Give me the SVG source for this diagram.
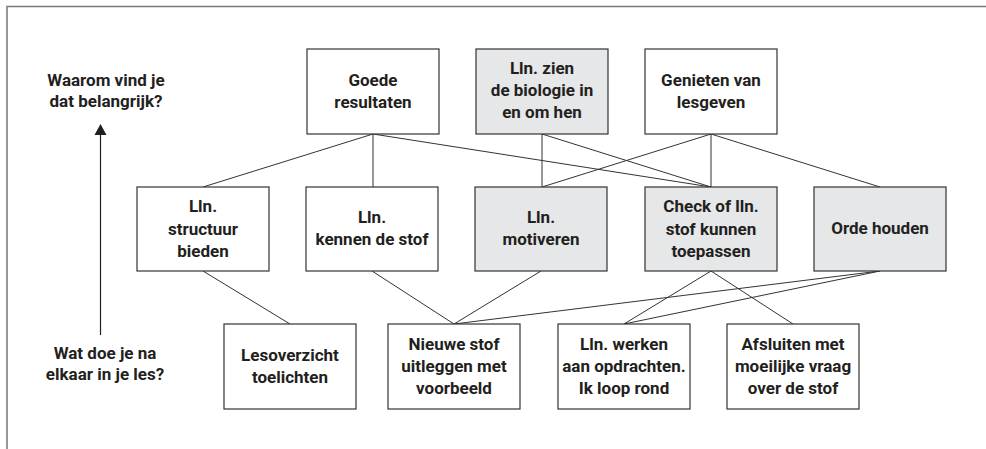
<svg xmlns="http://www.w3.org/2000/svg" width="986" height="449" viewBox="0 0 986 449">
<style>
.box{fill:#ffffff;stroke:#333333;stroke-width:1.2}
.gray{fill:#e6e7e8}
.t{font-family:Roboto,"Liberation Sans",sans-serif;font-weight:bold;font-size:17px;fill:#231f20;text-anchor:middle}
.c{stroke:#333333;stroke-width:1;fill:none}
</style>
<rect x="0" y="0" width="986" height="449" fill="#ffffff"/>
<path d="M7 449 V6.5 H986" fill="none" stroke="#777777" stroke-width="1.5"/>

<g id="labels">
<text class="t" x="106" y="86">Waarom vind je</text>
<text class="t" x="106" y="107">dat belangrijk?</text>
<text class="t" x="105" y="359">Wat doe je na</text>
<text class="t" x="105" y="380">elkaar in je les?</text>
<line x1="100.5" y1="335" x2="100.5" y2="134" stroke="#231f20" stroke-width="1.2"/>
<polygon points="100.5,124 94.5,135 106.5,135" fill="#231f20"/>
</g>

<g id="connectors" class="c">
<line x1="373" y1="134" x2="203" y2="187"/>
<line x1="373" y1="134" x2="373" y2="187"/>
<line x1="373" y1="134" x2="711" y2="187"/>
<line x1="542" y1="134" x2="542" y2="187"/>
<line x1="542" y1="134" x2="711" y2="187"/>
<line x1="711" y1="134" x2="542" y2="187"/>
<line x1="711" y1="134" x2="711" y2="187"/>
<line x1="711" y1="134" x2="880" y2="187"/>
<line x1="203" y1="271" x2="290" y2="324"/>
<line x1="372" y1="271" x2="454" y2="324"/>
<line x1="541" y1="271" x2="454" y2="324"/>
<line x1="711" y1="271" x2="624" y2="324"/>
<line x1="711" y1="271" x2="793" y2="324"/>
<line x1="880" y1="271" x2="454" y2="324"/>
<line x1="880" y1="271" x2="624" y2="324"/>
</g>

<g id="goede">
<rect class="box" x="307" y="49" width="132" height="85"/>
<text class="t" x="373" y="85.5">Goede</text>
<text class="t" x="373" y="107.5">resultaten</text>
</g>
<g id="zien">
<rect class="box gray" x="476" y="49" width="132" height="85"/>
<text class="t" x="542" y="74">Lln. zien</text>
<text class="t" x="542" y="96">de biologie in</text>
<text class="t" x="542" y="118">en om hen</text>
</g>
<g id="genieten">
<rect class="box" x="645" y="49" width="132" height="85"/>
<text class="t" x="711" y="85.5">Genieten van</text>
<text class="t" x="711" y="107.5">lesgeven</text>
</g>

<g id="structuur">
<rect class="box" x="137" y="187" width="132" height="84"/>
<text class="t" x="203" y="212">Lln.</text>
<text class="t" x="203" y="234.5">structuur</text>
<text class="t" x="203" y="257">bieden</text>
</g>
<g id="kennen">
<rect class="box" x="306" y="187" width="132" height="84"/>
<text class="t" x="372" y="223">Lln.</text>
<text class="t" x="372" y="245">kennen de stof</text>
</g>
<g id="motiveren">
<rect class="box gray" x="475" y="187" width="132" height="84"/>
<text class="t" x="541" y="223">Lln.</text>
<text class="t" x="541" y="245">motiveren</text>
</g>
<g id="check">
<rect class="box gray" x="645" y="187" width="132" height="84"/>
<text class="t" x="711" y="212">Check of lln.</text>
<text class="t" x="711" y="234.5">stof kunnen</text>
<text class="t" x="711" y="257">toepassen</text>
</g>
<g id="orde">
<rect class="box gray" x="814" y="187" width="132" height="84"/>
<text class="t" x="880" y="234">Orde houden</text>
</g>

<g id="lesoverzicht">
<rect class="box" x="224" y="324" width="132" height="85"/>
<text class="t" x="290" y="360.5">Lesoverzicht</text>
<text class="t" x="290" y="382.5">toelichten</text>
</g>
<g id="nieuwe">
<rect class="box" x="388" y="324" width="132" height="85"/>
<text class="t" x="454" y="349.5">Nieuwe stof</text>
<text class="t" x="454" y="372">uitleggen met</text>
<text class="t" x="454" y="394">voorbeeld</text>
</g>
<g id="werken">
<rect class="box" x="558" y="324" width="132" height="85"/>
<text class="t" x="624" y="349.5">Lln. werken</text>
<text class="t" x="624" y="372">aan opdrachten.</text>
<text class="t" x="624" y="394">Ik loop rond</text>
</g>
<g id="afsluiten">
<rect class="box" x="727" y="324" width="132" height="85"/>
<text class="t" x="793" y="349.5">Afsluiten met</text>
<text class="t" x="793" y="372">moeilijke vraag</text>
<text class="t" x="793" y="394">over de stof</text>
</g>
</svg>
